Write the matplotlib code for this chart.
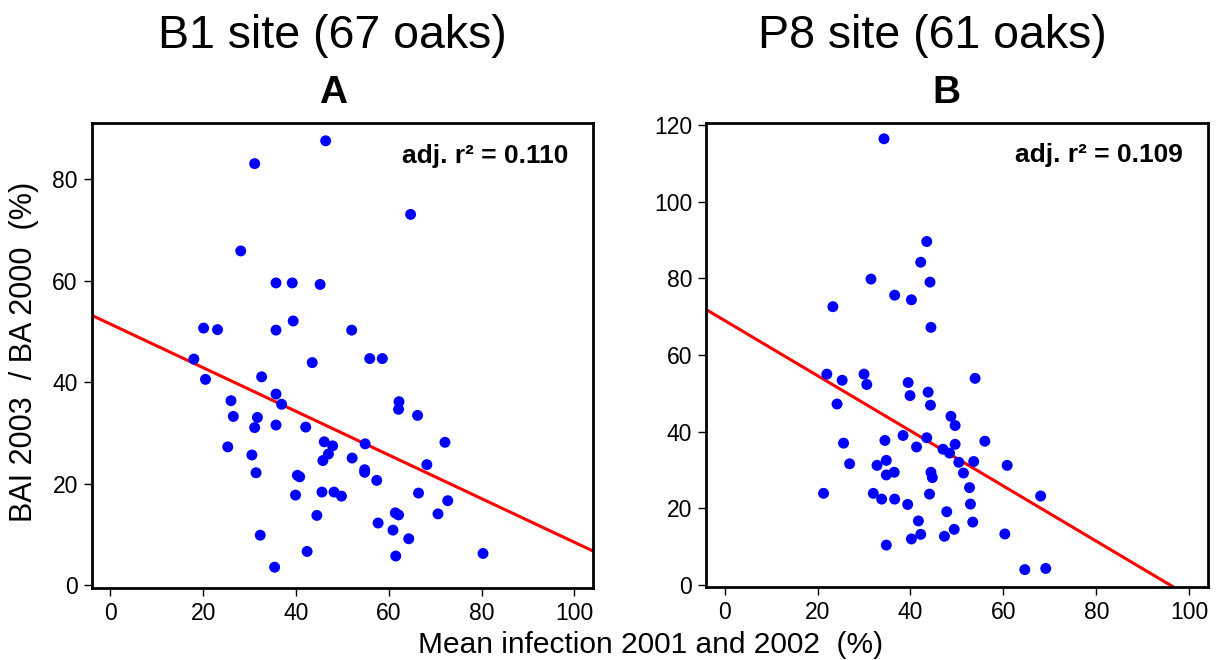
import matplotlib
matplotlib.use("Agg")
import matplotlib.pyplot as plt

plt.rcParams['font.family'] = ['Liberation Sans', 'DejaVu Sans']

# B1 site: mean infection (%) and BAI 2003 / BA 2000 (%)
b1_infection = [46.4, 31.1, 64.7, 28.1, 35.7, 39.2, 45.2, 20.1, 23.1, 35.7, 39.4, 52.0,
                18.0, 43.5, 55.9, 58.6, 20.5, 32.6, 35.7, 36.9, 26.0, 26.5, 31.7, 31.1,
                35.7, 42.1, 62.2, 62.1, 66.2, 25.3, 30.5, 31.4, 46.1, 47.9, 47.0, 45.8,
                52.1, 54.9, 54.8, 54.8, 57.4, 72.1, 68.2, 40.3, 40.8, 39.9, 45.6, 48.2,
                49.8, 44.5, 66.4, 72.7, 70.6, 61.4, 62.1, 57.7, 60.9, 64.3, 32.3, 42.4,
                61.5, 80.3, 35.4]
b1_growth = [87.6, 83.1, 73.1, 65.9, 59.6, 59.6, 59.3, 50.7, 50.4, 50.3, 52.1, 50.3,
             44.6, 43.9, 44.7, 44.7, 40.6, 41.1, 37.7, 35.7, 36.4, 33.3, 33.1, 31.1,
             31.6, 31.2, 36.2, 34.7, 33.5, 27.3, 25.7, 22.2, 28.3, 27.5, 25.9, 24.6,
             25.1, 27.9, 22.8, 22.3, 20.7, 28.2, 23.8, 21.7, 21.4, 17.8, 18.4, 18.4,
             17.6, 13.8, 18.2, 16.7, 14.1, 14.3, 13.9, 12.3, 10.9, 9.2, 9.9, 6.7,
             5.8, 6.3, 3.6]

# P8 site
p8_infection = [34.3, 43.5, 42.2, 31.5, 44.2, 36.6, 40.2, 23.3, 44.4, 22.0, 30.0, 25.3,
                30.6, 39.5, 39.9, 43.8, 44.3, 53.9, 24.2, 48.7, 49.6, 38.4, 43.5, 34.5,
                25.6, 56.0, 49.6, 41.3, 47.0, 48.4, 34.8, 50.4, 53.6, 60.8, 26.9, 32.8,
                36.5, 34.8, 44.4, 44.7, 51.4, 52.7, 21.3, 32.0, 33.8, 36.6, 44.1, 68.0,
                39.4, 52.9, 47.8, 41.7, 53.4, 49.4, 42.2, 60.3, 40.2, 47.3, 34.8, 64.6,
                69.1]
p8_growth = [116.4, 89.6, 84.2, 79.8, 79.0, 75.6, 74.4, 72.6, 67.2, 55.0, 55.0, 53.4,
             52.3, 52.8, 49.4, 50.3, 46.9, 53.9, 47.2, 44.0, 41.6, 39.0, 38.4, 37.7,
             37.0, 37.5, 36.7, 36.0, 35.4, 34.4, 32.5, 32.0, 32.2, 31.2, 31.6, 31.2,
             29.4, 28.7, 29.4, 28.0, 29.2, 25.4, 23.9, 23.9, 22.4, 22.4, 23.7, 23.2,
             21.0, 21.1, 19.1, 16.7, 16.4, 14.5, 13.2, 13.3, 12.0, 12.7, 10.4, 4.0,
             4.3]

# fitted lines (intercept, slope) and adjusted r2
b1_fit = (51.5, -0.43)
p8_fit = (69.0, -0.72)
b1_r2 = "0.110"
p8_r2 = "0.109"

fig = plt.figure(figsize=(12.25, 6.6), dpi=100)
ax1 = fig.add_axes([0.0749, 0.1091, 0.4092, 0.7045])
ax2 = fig.add_axes([0.5763, 0.1111, 0.4098, 0.7030])

panels = [
    (ax1, b1_infection, b1_growth, b1_fit, b1_r2, (-0.5, 91.1), [0, 20, 40, 60, 80]),
    (ax2, p8_infection, p8_growth, p8_fit, p8_r2, (-0.45, 120.6), [0, 20, 40, 60, 80, 100, 120]),
]
for ax, x, y, fit, r2, ylim, yticks in panels:
    ax.scatter(x, y, s=62, color='#0000ff', edgecolors='none', zorder=3)
    ax.axline((0, fit[0]), slope=fit[1], color='#ff0000', lw=2.2, zorder=2)
    ax.set_xlim(-4, 104)
    ax.set_ylim(*ylim)
    ax.set_xticks([0, 20, 40, 60, 80, 100])
    ax.set_yticks(yticks)
    ax.tick_params(labelsize=16.5, length=6, width=1, direction='out', pad=4)
    for sp in ax.spines.values():
        sp.set_linewidth(2)
    ax.text(0.95, 0.93, 'adj. r² = ' + r2, transform=ax.transAxes, ha='right', va='center',
            fontsize=19, fontweight='bold')

fig.text(0.271, 0.928, 'B1 site (67 oaks)', ha='center', va='baseline', fontsize=33.5)
fig.text(0.761, 0.928, 'P8 site (61 oaks)', ha='center', va='baseline', fontsize=33.5)
fig.text(0.272, 0.844, 'A', ha='center', va='baseline', fontsize=28, fontweight='bold')
fig.text(0.773, 0.844, 'B', ha='center', va='baseline', fontsize=28, fontweight='bold')

fig.text(0.020, 0.467, 'BAI 2003  / BA 2000  (%)', rotation=90, ha='center', va='center', fontsize=22)
fig.text(0.531, 0.022, 'Mean infection 2001 and 2002  (%)', ha='center', va='center', fontsize=21.5)

fig.savefig('out.png', dpi=100)
